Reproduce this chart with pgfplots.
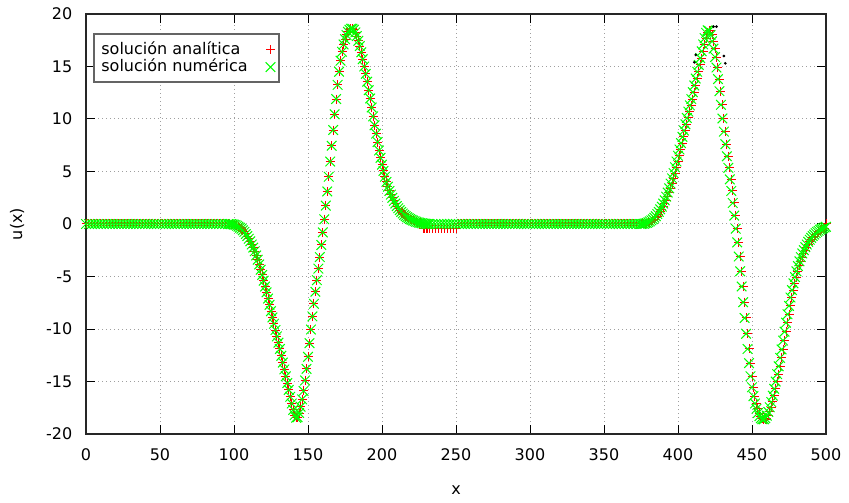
\documentclass[border=0pt]{standalone}
\usepackage{fontspec}
\setmainfont{DejaVu Sans}
\usepackage{pgfplots}
\usepackage{pgfplotstable}
\pgfplotsset{compat=1.18}
\definecolor{gnured}{RGB}{255,0,0}
\definecolor{gnugreen}{RGB}{0,255,0}
\definecolor{legframe}{RGB}{100,100,100}
\pgfplotstableread{
x ana num
0 0 0
2 0 0
4 0 0
6 0 0
8 0 0
10 0 0
12 0 0
14 0 0
16 0 0
18 0 0
20 0 0
22 0 0
24 0 0
26 0 0
28 0 0
30 0 0
32 0 0
34 0 0
36 0 0
38 0 0
40 0 0
42 0 0
44 0 0
46 0 0
48 0 0
50 0 0
52 0 0
54 0 0
56 0 0
58 0 0
60 0 0
62 0 0
64 0 0
66 0 0
68 0 0
70 0 0
72 0 0
74 0 0
76 0 0
78 0 0
80 0 0
82 0 0
84 0 0
86 0 0
88 0 0
90 0 0
92 0 0
94 0 0
96 0 0
97 0 0
98 -0.01 -0.01
99 -0.03 -0.03
100 -0.06 -0.06
101 -0.1 -0.1
102 -0.17 -0.17
103 -0.25 -0.25
104 -0.35 -0.35
105 -0.45 -0.45
106 -0.6 -0.6
107 -0.75 -0.75
108 -0.95 -0.95
109 -1.15 -1.15
110 -1.4 -1.4
111 -1.65 -1.65
112 -1.95 -1.95
113 -2.25 -2.25
114 -2.6 -2.6
115 -3.0 -3.0
116 -3.4 -3.4
117 -3.85 -3.85
118 -4.35 -4.35
119 -4.85 -4.85
120 -5.4 -5.4
121 -5.95 -5.95
122 -6.5 -6.5
123 -7.1 -7.1
124 -7.7 -7.7
125 -8.3 -8.3
126 -8.9 -8.9
127 -9.5 -9.5
128 -10.1 -10.1
129 -10.7 -10.7
130 -11.3 -11.3
131 -11.9 -11.9
132 -12.55 -12.55
133 -13.2 -13.2
134 -13.85 -13.85
135 -14.5 -14.5
136 -15.15 -15.15
137 -15.8 -15.8
138 -16.45 -16.45
139 -17.1 -17.1
140 -17.7 -17.7
141 -18.2 -18.2
142 -18.45 -18.45
143 -18.4 -18.4
144 -18.0 -18.0
145 -17.4 -17.4
146 -16.7 -16.7
147 -15.9 -15.9
148 -14.9 -14.9
149 -13.8 -13.8
150 -12.65 -12.65
151 -11.35 -11.35
152 -10.05 -10.05
153 -8.8 -8.8
154 -7.6 -7.6
155 -6.45 -6.45
156 -5.35 -5.35
157 -4.25 -4.25
158 -3.15 -3.15
159 -2.0 -2.0
160 -0.8 -0.8
161 0.45 0.45
162 1.75 1.75
163 3.1 3.1
164 4.5 4.5
165 5.95 5.95
166 7.45 7.45
167 8.95 8.95
168 10.45 10.45
169 11.9 11.9
170 13.25 13.25
171 14.5 14.5
172 15.55 15.55
173 16.4 16.4
174 17.1 17.1
175 17.6 17.6
176 18.0 18.0
177 18.3 18.3
178 18.5 18.5
179 18.6 18.6
180 18.6 18.6
181 18.5 18.5
182 18.25 18.25
183 17.9 17.9
184 17.45 17.45
185 16.95 16.95
186 16.35 16.35
187 15.7 15.7
188 15.0 15.0
189 14.3 14.3
190 13.55 13.55
191 12.75 12.75
192 11.95 11.95
193 11.1 11.1
194 10.25 10.25
195 9.4 9.4
196 8.6 8.6
197 7.8 7.8
198 7.0 7.0
199 6.3 6.3
200 5.65 5.65
201 5.05 5.05
202 4.5 4.5
203 4.0 4.0
204 3.55 3.55
205 3.15 3.15
206 2.8 2.8
207 2.5 2.5
208 2.2 2.2
209 1.95 1.95
210 1.7 1.7
211 1.5 1.5
212 1.32 1.32
213 1.15 1.15
214 1.0 1.0
215 0.87 0.87
216 0.75 0.75
217 0.65 0.65
218 0.55 0.55
219 0.47 0.47
220 0.4 0.4
221 0.33 0.33
222 0.27 0.27
223 0.22 0.22
224 0.17 0.17
225 0.13 0.13
226 0.1 0.1
227 0.07 0.07
228 -0.45 0.05
229 -0.45 0.03
230 -0.45 0.01
231 -0.45 0
232 -0.45 0
234 -0.45 0
236 -0.45 0
238 -0.45 0
240 -0.45 0
242 -0.45 0
244 -0.45 0
246 -0.45 0
248 -0.45 0
250 -0.45 0
252 0 0
254 0 0
256 0 0
258 0 0
260 0 0
262 0 0
264 0 0
266 0 0
268 0 0
270 0 0
272 0 0
274 0 0
276 0 0
278 0 0
280 0 0
282 0 0
284 0 0
286 0 0
288 0 0
290 0 0
292 0 0
294 0 0
296 0 0
298 0 0
300 0 0
302 0 0
304 0 0
306 0 0
308 0 0
310 0 0
312 0 0
314 0 0
316 0 0
318 0 0
320 0 0
322 0 0
324 0 0
326 0 0
328 0 0
330 0 0
332 0 0
334 0 0
336 0 0
338 0 0
340 0 0
342 0 0
344 0 0
346 0 0
348 0 0
350 0 0
352 0 0
354 0 0
356 0 0
358 0 0
360 0 0
362 0 0
364 0 0
366 0 0
368 0 0
370 0 0
372 0 0
374 0 0
375 0 0
376 0 0.01
377 0.01 0.03
378 0.03 0.06
379 0.06 0.1
380 0.1 0.17
381 0.17 0.25
382 0.25 0.35
383 0.35 0.45
384 0.45 0.6
385 0.6 0.75
386 0.75 0.95
387 0.95 1.15
388 1.15 1.4
389 1.4 1.65
390 1.65 1.95
391 1.95 2.25
392 2.25 2.6
393 2.6 3.0
394 3.0 3.4
395 3.4 3.85
396 3.85 4.35
397 4.35 4.85
398 4.85 5.4
399 5.4 5.95
400 5.95 6.5
401 6.5 7.1
402 7.1 7.7
403 7.7 8.3
404 8.3 8.9
405 8.9 9.5
406 9.5 10.1
407 10.1 10.7
408 10.7 11.3
409 11.3 11.9
410 11.9 12.55
411 12.55 13.2
412 13.2 13.85
413 13.85 14.5
414 14.5 15.15
415 15.15 15.8
416 15.8 16.45
417 16.45 17.1
418 17.1 17.7
419 17.7 18.2
420 18.2 18.45
421 18.45 18.4
422 18.4 18.0
423 18.0 17.4
424 17.4 16.7
425 16.7 15.9
426 15.9 14.9
427 14.9 13.8
428 13.8 12.65
429 12.65 11.35
430 11.35 10.05
431 10.05 8.8
432 8.8 7.6
433 7.6 6.45
434 6.45 5.35
435 5.35 4.25
436 4.25 3.15
437 3.15 2.0
438 2.0 0.8
439 0.8 -0.45
440 -0.45 -1.75
441 -1.75 -3.1
442 -3.1 -4.5
443 -4.5 -5.95
444 -5.95 -7.45
445 -7.45 -8.95
446 -8.95 -10.45
447 -10.45 -11.9
448 -11.9 -13.25
449 -13.25 -14.5
450 -14.5 -15.55
451 -15.55 -16.4
452 -16.4 -17.1
453 -17.1 -17.6
454 -17.6 -18.0
455 -18.0 -18.3
456 -18.3 -18.5
457 -18.5 -18.6
458 -18.6 -18.6
459 -18.6 -18.5
460 -18.5 -18.25
461 -18.25 -17.9
462 -17.9 -17.45
463 -17.45 -16.95
464 -16.95 -16.35
465 -16.35 -15.7
466 -15.7 -15.0
467 -15.0 -14.3
468 -14.3 -13.55
469 -13.55 -12.75
470 -12.75 -11.95
471 -11.95 -11.1
472 -11.1 -10.25
473 -10.25 -9.4
474 -9.4 -8.6
475 -8.6 -7.8
476 -7.8 -7.0
477 -7.0 -6.3
478 -6.3 -5.65
479 -5.65 -5.05
480 -5.05 -4.5
481 -4.5 -4.0
482 -4.0 -3.55
483 -3.55 -3.15
484 -3.15 -2.8
485 -2.8 -2.5
486 -2.5 -2.2
487 -2.2 -1.95
488 -1.95 -1.7
489 -1.7 -1.5
490 -1.5 -1.32
491 -1.32 -1.15
492 -1.15 -1.0
493 -1.0 -0.87
494 -0.87 -0.75
495 -0.75 -0.65
496 -0.65 -0.55
497 -0.55 -0.47
498 -0.47 -0.4
499 -0.4 -0.33
500 0 -0.27
}\data
\begin{document}
\begin{tikzpicture}
\begin{axis}[
  scale only axis,
  width=370pt, height=210pt,
  xmin=0, xmax=500, ymin=-20, ymax=20,
  xtick={0,50,...,500}, ytick={-20,-15,...,20},
  tick align=inside,
  major tick length=4.5pt,
  tick style={black, line width=0.5pt},
  axis line style={black!85, line width=0.7pt},
  grid=major,
  major grid style={gray!75, line width=0.5pt, dash pattern=on 0.5pt off 1.5pt},
  /pgf/number format/assume math mode=true,
  ticklabel style={font=\fontsize{8}{9.6}\selectfont},
  xticklabel style={yshift=-4pt},
  yticklabel style={xshift=-3.3pt},
  xlabel={x}, ylabel={u(x)},
  label style={font=\fontsize{8}{9.6}\selectfont},
  xlabel style={at={([yshift=-28pt]axis description cs:0.5,0)}, anchor=center},
  ylabel style={at={([xshift=-34.5pt]axis description cs:0,0.5)}, anchor=center},
  legend plot pos=right,
  legend cell align=left,
  legend style={at={(axis description cs:0,1)}, anchor=north west, name=leg,
    xshift=4pt, yshift=-10pt, draw=none, fill=white,
    font=\fontsize{8}{9.6}\selectfont, inner sep=1.5pt, row sep=-3pt,
    column sep=7pt},
]
\addplot[only marks, mark=+, mark size=2.25pt, color=gnured, mark options={draw=gnured, line width=0.5pt}]
  table[x=x, y=ana]{\data};
\addlegendentry{solución analítica}
\addplot[only marks, mark=x, mark size=3.4pt, color=gnugreen, mark options={draw=gnugreen, line width=0.5pt}]
  table[x=x, y=num]{\data};
\addlegendentry{solución numérica}
\addplot[only marks, mark=*, mark size=0.45pt, black, forget plot] coordinates {
  (411,15.4) (412,16.1) (424,18.8) (426,18.8) (431,16.0) (432,15.3)};
\end{axis}
\draw[legframe, line width=0.9pt] (leg.south west) rectangle (leg.north east);
\pgfresetboundingbox
\path ([shift={(-43pt,-34pt)}]current axis.south west) rectangle ([shift={(11.5pt,7pt)}]current axis.north east);
\end{tikzpicture}
\end{document}
